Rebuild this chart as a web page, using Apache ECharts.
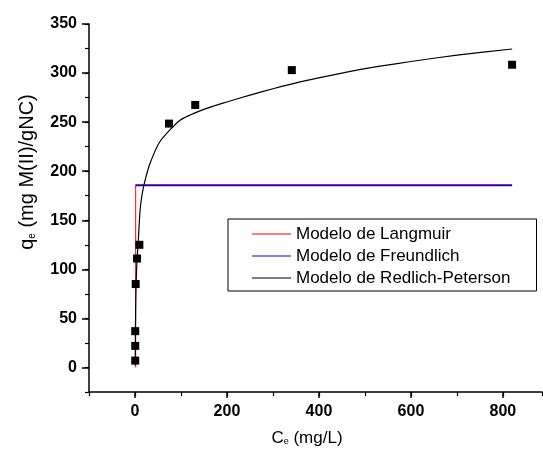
<!DOCTYPE html>
<html>
<head>
<meta charset="utf-8">
<script src="https://cdn.jsdelivr.net/npm/echarts@6/dist/echarts.min.js"></script>
<style>
html,body{margin:0;padding:0;background:#fff;}
#c{width:543px;height:449px;}
</style>
</head>
<body>
<div id="c"></div>
<script>
// Experimental points (Ce, qe)
const expPoints = [[0.5,7],[0.5,22],[0.5,37],[1.5,85],[4.5,111],[9.5,125],[74,248.5],[131,267.5],[341,303],[820,308.5]];
// Model curves
const langmuir = [[1.5,0],[1.5,186.3],[820,186.3]];
const freundlich = [[1.5,185.5],[820,185.5]];
const redlichPeterson = [[0.5,2],[1,40],[2,78],[4,106],[7,128],[11,160],[15,175],[20,187],[32,207],[54,230],[98,252],[150,263],[196,270],[250,277.5],[300,284],[359,291],[450,300],[533,307],[600,311.8],[700,318.3],[820,324.5]];
const seriesNames = ['Modelo de Langmuir','Modelo de Freundlich','Modelo de Redlich-Peterson'];
const xMajor = [0,200,400,600,800];
const yMajor = [0,50,100,150,200,250,300,350];

const FONT = '"Liberation Sans", Arial, sans-serif';
const chart = echarts.init(document.getElementById('c'), null, {renderer:'canvas'});
const labelStyle = {fontFamily:FONT, fontSize:16, fontWeight:'bold', color:'#000'};
const lineIcon = 'path://M0,0L40,0L40,1L0,1Z';
chart.setOption({
  animation:false,
  backgroundColor:'#fff',
  grid:{left:89, top:24, right:1, bottom:57, containLabel:false},
  xAxis:[{
    type:'value', min:-100, max:885, position:'bottom',
    axisLine:{show:true, onZero:false, lineStyle:{color:'#000', width:1.5}},
    axisTick:{show:true, customValues:xMajor, length:6, lineStyle:{color:'#000', width:1.5}},
    axisLabel:{customValues:xMajor, margin:12, ...labelStyle},
    splitLine:{show:false}
  },{
    type:'value', min:-100, max:885, interval:100, position:'bottom',
    axisLine:{show:false, onZero:false},
    axisTick:{show:true, length:4, lineStyle:{color:'#000', width:1.2}},
    axisLabel:{show:false}, splitLine:{show:false}
  }],
  yAxis:[{
    type:'value', min:-25, max:350, position:'left',
    axisLine:{show:true, onZero:false, lineStyle:{color:'#000', width:1.5}},
    axisTick:{show:true, customValues:yMajor, length:7, lineStyle:{color:'#000', width:1.5}},
    axisLabel:{customValues:yMajor, margin:12, ...labelStyle},
    splitLine:{show:false}
  },{
    type:'value', min:-25, max:350, interval:25, position:'left',
    axisLine:{show:false, onZero:false},
    axisTick:{show:true, length:4, lineStyle:{color:'#000', width:1.2}},
    axisLabel:{show:false}, splitLine:{show:false}
  }],
  legend:{
    data:seriesNames.map(n=>({name:n, icon:lineIcon})),
    orient:'vertical', left:228, top:219,
    itemWidth:39, itemHeight:1.5, itemGap:2,
    padding:[5,26,3,24],
    borderColor:'#000', borderWidth:1,
    textStyle:{fontFamily:FONT, fontSize:17, color:'#000', lineHeight:20}
  },
  graphic:[{
    type:'text', x:27, y:172, rotation:Math.PI/2,
    style:{
      text:'{q|q}{s|e}{n| (mg M(II)/gNC)}',
      align:'center', verticalAlign:'middle',
      rich:{
        q:{fontFamily:FONT, fontSize:20, fill:'#000'},
        s:{fontFamily:FONT, fontSize:10, fill:'#000', verticalAlign:'bottom', padding:[8,0,0,0]},
        n:{fontFamily:FONT, fontSize:20, fill:'#000'}
      }
    }
  },{
    type:'text', x:307, y:438,
    style:{
      text:'{c|C}{s|e}{n| (mg/L)}',
      align:'center', verticalAlign:'middle',
      rich:{
        c:{fontFamily:FONT, fontSize:17, fill:'#000'},
        s:{fontFamily:FONT, fontSize:9, fill:'#000', verticalAlign:'bottom', padding:[8,0,0,0]},
        n:{fontFamily:FONT, fontSize:17, fill:'#000'}
      }
    }
  }],
  series:[{
    name:seriesNames[0], type:'line', data:langmuir, symbol:'none', z:2,
    lineStyle:{color:'#ff0000', width:1}, itemStyle:{color:'#ff0000'}
  },{
    name:seriesNames[1], type:'line', data:freundlich, symbol:'none', z:3,
    lineStyle:{color:'#0000ff', width:1.5}, itemStyle:{color:'#0000ff'}
  },{
    name:seriesNames[2], type:'line', data:redlichPeterson, symbol:'none', smooth:0.2, z:4,
    lineStyle:{color:'#000', width:1.2}, itemStyle:{color:'#000'}
  },{
    name:'Datos', type:'scatter', data:expPoints, symbol:'rect', symbolSize:8, z:5,
    itemStyle:{color:'#000', opacity:1}
  }]
});
</script>
</body>
</html>
